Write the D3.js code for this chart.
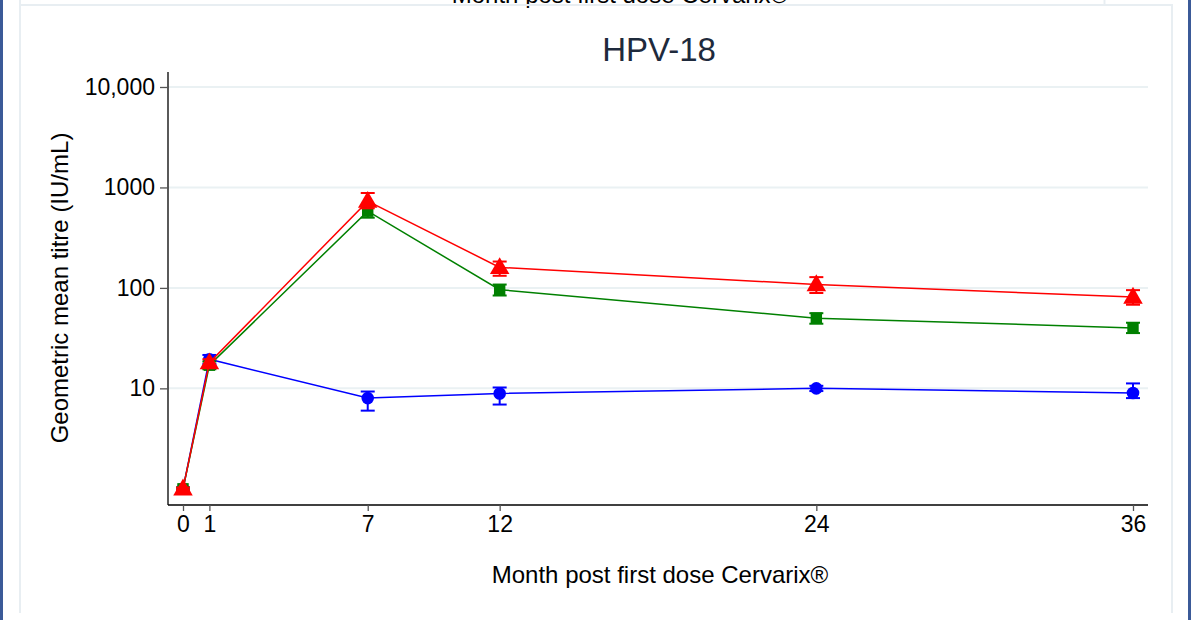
<!DOCTYPE html>
<html>
<head>
<meta charset="utf-8">
<script src="https://cdn.jsdelivr.net/npm/d3@7"></script>
<style>
  body { margin: 0; background: #fff; }
  text { font-family: "Liberation Sans", Arial, sans-serif; }
</style>
</head>
<body>
<div id="chart"></div>
<script>
// data
const months = [0, 1, 7, 12, 24, 36];
const yTicks = [10, 100, 1000, 10000];
const yTickLabels = ["10", "100", "1000", "10,000"];

const blueGmt = [1, 19.5, 8, 8.9, 10, 9];
const blueLo = [0.97, 17.5, 6, 6.9, 9.4, 8];
const blueHi = [1.03, 21.5, 9.3, 10.2, 10.6, 11.2];

const greenGmt = [1, 17, 580, 96, 50, 40];
const greenLo = [0.97, 15.5, 500, 84, 44, 35.5];
const greenHi = [1.03, 18.5, 670, 108, 56, 45];

const redGmt = [1, 18, 730, 160, 108, 81];
const redLo = [0.97, 16.5, 620, 132, 89, 68];
const redHi = [1.03, 19.5, 880, 183, 128, 95];

const series = [
  { name: "blue", color: "#0000ff", marker: "circle", gmt: blueGmt, lo: blueLo, hi: blueHi },
  { name: "green", color: "#008000", marker: "square", gmt: greenGmt, lo: greenLo, hi: greenHi },
  { name: "red", color: "#ff0000", marker: "triangle", gmt: redGmt, lo: redLo, hi: redHi }
];

const W = 1191, H = 620;
const svg = d3.select("#chart").append("svg")
  .attr("width", W).attr("height", H);

// outer frame
svg.append("rect").attr("x", 0).attr("y", 0).attr("width", 3).attr("height", H).attr("fill", "#3b5a98");
svg.append("rect").attr("x", 1188).attr("y", 0).attr("width", 3).attr("height", H).attr("fill", "#3b5a98");

// clipped label of the panel above
svg.append("text")
  .attr("x", 620).attr("y", 3)
  .attr("text-anchor", "middle")
  .attr("font-size", 24)
  .attr("fill", "#000")
  .text("Month post first dose Cervarix®");
svg.append("line").attr("x1", 1104.5).attr("x2", 1104.5).attr("y1", 0).attr("y2", 5)
  .attr("stroke", "#e8eef2").attr("stroke-width", 2);

// panel border (no bottom edge visible)
svg.append("path")
  .attr("d", "M20,0V613M20,5H1172V613")
  .attr("fill", "none").attr("stroke", "#e8eef2").attr("stroke-width", 2);

const x = d3.scaleLinear().domain([0, 36]).range([183, 1133]);
const y = d3.scaleLog().domain([0.69, 14100]).range([505, 72]);

// gridlines
svg.append("g")
  .selectAll("line")
  .data(yTicks)
  .join("line")
  .attr("x1", 168).attr("x2", 1148)
  .attr("y1", d => y(d)).attr("y2", d => y(d))
  .attr("stroke", "#eaf1f3").attr("stroke-width", 2);

// y axis
const yAxis = svg.append("g")
  .attr("transform", "translate(168,0)")
  .call(d3.axisLeft(y).tickValues(yTicks).tickSize(8).tickPadding(5)
    .tickFormat((d, i) => yTickLabels[i]));
yAxis.select(".domain").attr("d", `M0,${y.range()[1]}V${y.range()[0]}`);

// x axis
const xAxis = svg.append("g")
  .attr("transform", "translate(0,505)")
  .call(d3.axisBottom(x).tickValues(months).tickSize(6).tickPadding(5));
xAxis.select(".domain").attr("d", `M168,0H1148`);

svg.selectAll(".tick text").attr("font-size", 23).attr("fill", "#000")
  .attr("font-family", "'Liberation Sans', Arial, sans-serif");
svg.selectAll(".domain, .tick line").attr("stroke", "#000").attr("stroke-width", 1.3);
yAxis.selectAll(".tick line").attr("stroke", "#555");
xAxis.selectAll(".tick line").attr("stroke", "#555");

// titles
svg.append("text")
  .attr("x", 659).attr("y", 61)
  .attr("text-anchor", "middle")
  .attr("font-size", 33)
  .attr("fill", "#1e2a3c")
  .text("HPV-18");
svg.append("text")
  .attr("x", 660).attr("y", 583)
  .attr("text-anchor", "middle")
  .attr("font-size", 24)
  .attr("fill", "#000")
  .text("Month post first dose Cervarix®");
svg.append("text")
  .attr("transform", "translate(68,288) rotate(-90)")
  .attr("text-anchor", "middle")
  .attr("font-size", 24)
  .attr("fill", "#000")
  .text("Geometric mean titre (IU/mL)");

// series
const line = d3.line()
  .x((d, i) => x(months[i]))
  .y(d => y(d));

const symbols = {
  circle: d3.symbol().type(d3.symbolCircle).size(125),
  square: d3.symbol().type(d3.symbolSquare).size(130),
  triangle: d3.symbol().type(d3.symbolTriangle).size(165)
};

series.forEach(s => {
  const g = svg.append("g");
  g.append("path")
    .datum(s.gmt)
    .attr("d", line)
    .attr("fill", "none")
    .attr("stroke", s.color)
    .attr("stroke-width", 1.5);

  const pts = months.map((m, i) => ({ m, v: s.gmt[i], lo: s.lo[i], hi: s.hi[i] }));

  // error bars
  const eb = g.selectAll(".eb").data(pts).join("g");
  eb.append("line")
    .attr("x1", d => x(d.m)).attr("x2", d => x(d.m))
    .attr("y1", d => y(d.lo)).attr("y2", d => y(d.hi))
    .attr("stroke", s.color).attr("stroke-width", 2);
  eb.append("line")
    .attr("x1", d => x(d.m) - 7).attr("x2", d => x(d.m) + 7)
    .attr("y1", d => y(d.lo)).attr("y2", d => y(d.lo))
    .attr("stroke", s.color).attr("stroke-width", 2);
  eb.append("line")
    .attr("x1", d => x(d.m) - 7).attr("x2", d => x(d.m) + 7)
    .attr("y1", d => y(d.hi)).attr("y2", d => y(d.hi))
    .attr("stroke", s.color).attr("stroke-width", 2);

  g.selectAll(".mk").data(pts).join("path")
    .attr("transform", d => `translate(${x(d.m)},${y(d.v) + (s.marker === "triangle" ? 1 : 0)})`)
    .attr("d", symbols[s.marker]())
    .attr("fill", s.color);
});
</script>
</body>
</html>
